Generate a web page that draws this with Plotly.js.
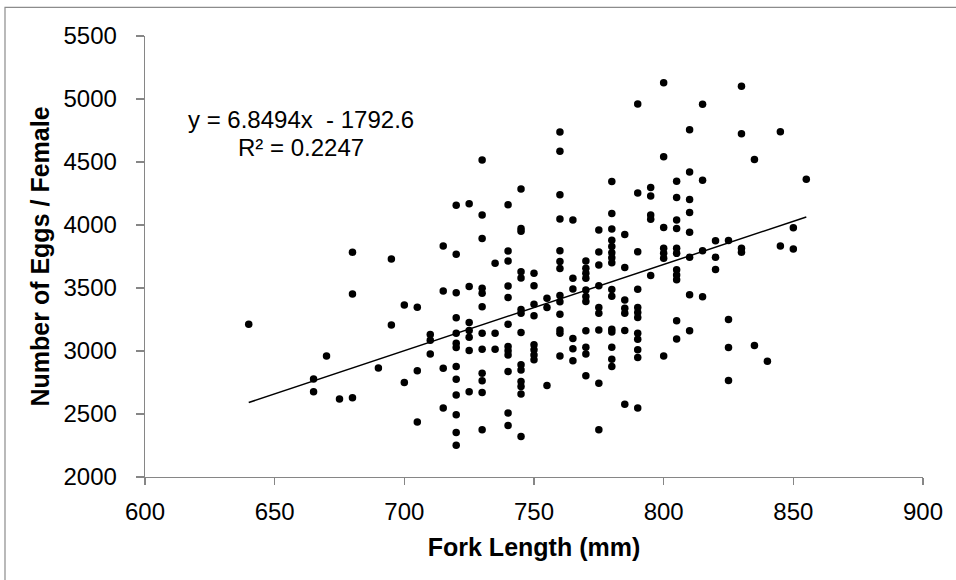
<!DOCTYPE html>
<html>
<head>
<meta charset="utf-8">
<script src="https://cdn.plot.ly/plotly-3.0.1.min.js"></script>
<style>
  html, body { margin: 0; padding: 0; background: #fff; }
  #chart { width: 956px; height: 580px; }
</style>
</head>
<body>
<div id="chart"></div>
<script>
// Fork length (mm) for each female
const forkLength = [
  640,
  665, 665,
  670,
  675,
  680, 680, 680,
  690,
  695, 695,
  700, 700,
  705, 705, 705,
  710, 710, 710,
  715, 715, 715, 715,
  720, 720, 720, 720, 720, 720, 720, 720, 720, 720, 720, 720, 720,
  725, 725, 725, 725, 725, 725, 725,
  730, 730, 730, 730, 730, 730, 730, 730, 730, 730, 730, 730,
  735, 735, 735,
  740, 740, 740, 740, 740, 740, 740, 740, 740, 740, 740, 740,
  745, 745, 745, 745, 745, 745, 745, 745, 745, 745, 745, 745, 745, 745,
  750, 750, 750, 750, 750, 750, 750, 750,
  755, 755, 755,
  760, 760, 760, 760, 760, 760, 760, 760, 760, 760, 760, 760, 760,
  765, 765, 765, 765, 765, 765,
  770, 770, 770, 770, 770, 770, 770, 770, 770, 770, 770,
  775, 775, 775, 775, 775, 775, 775, 775, 775,
  780, 780, 780, 780, 780, 780, 780, 780, 780, 780, 780, 780, 780, 780, 780,
  785, 785, 785, 785, 785, 785, 785,
  790, 790, 790, 790, 790, 790, 790, 790, 790, 790, 790, 790,
  795, 795, 795, 795, 795,
  800, 800, 800, 800, 800, 800, 800,
  805, 805, 805, 805, 805, 805, 805, 805, 805, 805, 805,
  810, 810, 810, 810, 810, 810, 810, 810,
  815, 815, 815, 815,
  820, 820, 820,
  825, 825, 825, 825,
  830, 830, 830, 830,
  835, 835,
  840,
  845, 845,
  850, 850,
  855
];

// Number of eggs per female (same order as forkLength)
const eggsPerFemale = [
  3213,
  2777, 2676,
  2961,
  2620,
  3783, 3453, 2628,
  2866,
  3730, 3207,
  3366, 2750,
  3347, 2843, 2436,
  3130, 3085, 2977,
  3833, 3477, 2864, 2547,
  4156, 3767, 3463, 3263, 3141, 3062, 3027, 2877, 2776, 2650, 2494, 2354, 2251,
  4169, 3512, 3227, 3162, 3109, 3004, 2676,
  4515, 4079, 3892, 3498, 3458, 3352, 3141, 3014, 2824, 2763, 2671, 2375,
  3696, 3141, 3014,
  4161, 3794, 3714, 3516, 3424, 3212, 3035, 3001, 2969, 2837, 2507, 2409,
  4285, 3973, 3950, 3628, 3580, 3330, 3300, 3146, 2890, 2850, 2758, 2718, 2658, 2322,
  3617, 3518, 3371, 3280, 3049, 3009, 2969, 2930,
  3418, 3345, 2726,
  4739, 4586, 4240, 4047, 3796, 3710, 3655, 3440, 3390, 3292, 3167, 3141, 2961,
  4039, 3577, 3492, 3099, 3017, 2922,
  3714, 3656, 3617, 3577, 3485, 3432, 3392, 3160, 3030, 2977, 2803,
  3960, 3786, 3683, 3518, 3345, 3300, 3167, 2745, 2375,
  4346, 4092, 3968, 3878, 3830, 3780, 3740, 3700, 3488, 3435, 3173, 3150, 3030, 2935, 2877,
  3925, 3663, 3405, 3340, 3300, 3162, 2578,
  4961, 4253, 3787, 3490, 3345, 3305, 3265, 3141, 3094, 3009, 2948, 2547,
  4297, 4231, 4079, 4045, 3600,
  5128, 4541, 3980, 3815, 3775, 3736, 2961,
  4348, 4219, 4039, 3973, 3815, 3775, 3645, 3603, 3566, 3240, 3095,
  4755, 4420, 4203, 4099, 3942, 3744, 3447, 3160,
  4959, 4356, 3796, 3430,
  3875, 3744, 3647,
  3876, 3250, 3027, 2766,
  5101, 4724, 3815, 3783,
  4520, 3043,
  2919,
  4740, 3833,
  3979, 3810,
  4364
];

// Linear trendline reported on the chart
const trendSlope = 6.8494;
const trendIntercept = -1792.6;
const trendRSquared = 0.2247;

// Axis ticks
const xTickValues = [600, 650, 700, 750, 800, 850, 900];
const yTickValues = [2000, 2500, 3000, 3500, 4000, 4500, 5000, 5500];

const xMin = Math.min(...forkLength);
const xMax = Math.max(...forkLength);
const trendX = [xMin, xMax];
const trendY = trendX.map(v => trendSlope * v + trendIntercept);

const FONT = 'Liberation Sans, Arial, Helvetica, sans-serif';
const AXIS_GRAY = '#868686';

const traces = [
  {
    type: 'scatter',
    mode: 'markers',
    x: forkLength,
    y: eggsPerFemale,
    marker: { color: '#000000', size: 7.5 },
    hoverinfo: 'x+y',
    showlegend: false
  },
  {
    type: 'scatter',
    mode: 'lines',
    x: trendX,
    y: trendY,
    line: { color: '#000000', width: 1.5 },
    hoverinfo: 'skip',
    showlegend: false
  }
];

const layout = {
  width: 956,
  height: 580,
  autosize: false,
  margin: { l: 145, r: 33, t: 36, b: 103, pad: 0 },
  paper_bgcolor: '#ffffff',
  plot_bgcolor: '#ffffff',
  font: { family: FONT, color: '#000000', size: 24 },
  showlegend: false,
  xaxis: {
    range: [600, 900],
    tickvals: xTickValues,
    ticktext: xTickValues.map(String),
    showgrid: false,
    zeroline: false,
    showline: true,
    linecolor: AXIS_GRAY,
    linewidth: 1.3,
    ticks: 'outside',
    ticklen: 7,
    tickwidth: 1.3,
    tickcolor: AXIS_GRAY,
    tickfont: { family: FONT, size: 24, color: '#000000' },
    ticklabelstandoff: 6,
    automargin: false,
    title: {
      text: 'Fork Length (mm)',
      font: { family: FONT, size: 25, color: '#000000', weight: 'bold' },
      standoff: 14
    }
  },
  yaxis: {
    range: [2000, 5500],
    tickvals: yTickValues,
    ticktext: yTickValues.map(String),
    showgrid: false,
    zeroline: false,
    showline: true,
    linecolor: AXIS_GRAY,
    linewidth: 1.3,
    ticks: 'outside',
    ticklen: 8,
    tickwidth: 1.3,
    tickcolor: AXIS_GRAY,
    tickfont: { family: FONT, size: 24, color: '#000000' },
    ticklabelstandoff: 14,
    automargin: false,
    title: {
      text: 'Number of Eggs / Female',
      font: { family: FONT, size: 25, color: '#000000', weight: 'bold' },
      standoff: 6
    }
  },
  annotations: [
    {
      xref: 'x', yref: 'y',
      x: 660, y: 4840,
      xanchor: 'center', yanchor: 'middle',
      showarrow: false,
      text: 'y = ' + trendSlope.toFixed(4) + 'x  - ' + Math.abs(trendIntercept).toFixed(1),
      font: { family: FONT, size: 24, color: '#000000' }
    },
    {
      xref: 'x', yref: 'y',
      x: 660, y: 4618,
      xanchor: 'center', yanchor: 'middle',
      showarrow: false,
      text: 'R² = ' + trendRSquared.toFixed(4),
      font: { family: FONT, size: 24, color: '#000000' }
    }
  ],
  shapes: [
    {
      type: 'rect',
      xref: 'paper', yref: 'paper',
      x0: (5 - 145) / 778, x1: (990 - 145) / 778,
      y0: (477.3 - 620) / 441.6, y1: (477.3 - 7) / 441.6,
      line: { color: '#8c8c8c', width: 1.2 },
      fillcolor: 'rgba(0,0,0,0)',
      layer: 'below'
    }
  ]
};

Plotly.newPlot('chart', traces, layout, { displayModeBar: false, staticPlot: true });
</script>
</body>
</html>
